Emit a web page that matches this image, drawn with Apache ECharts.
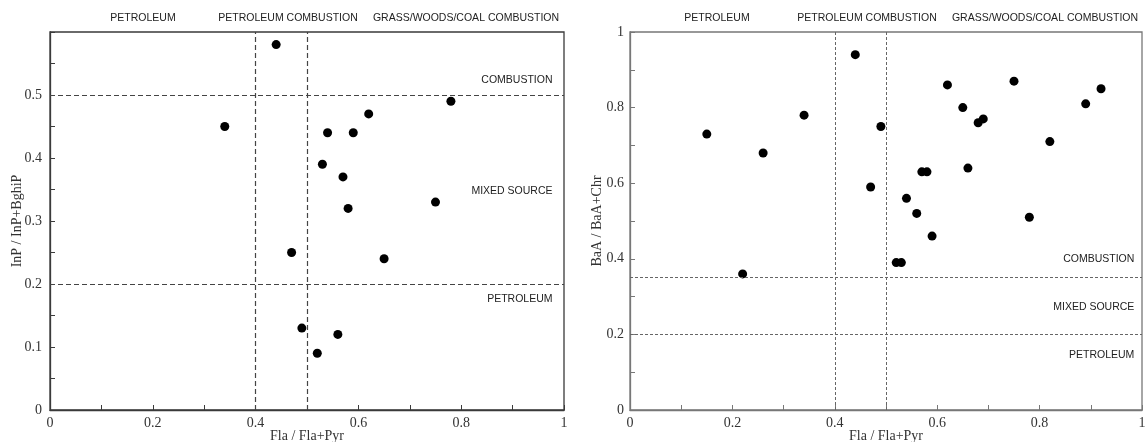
<!DOCTYPE html>
<html>
<head>
<meta charset="utf-8">
<script src="https://cdn.jsdelivr.net/npm/echarts@6/dist/echarts.min.js"></script>
<style>
html,body{margin:0;padding:0;background:#fff;}
#chart{width:1146px;height:442px;}
</style>
</head>
<body>
<div id="chart"></div>
<script>
// ---- Data ----
// Left panel: Fla/(Fla+Pyr) vs InP/(InP+BghiP)
const leftX = [0.34, 0.44, 0.47, 0.49, 0.52, 0.53, 0.54, 0.56, 0.57, 0.58, 0.59, 0.62, 0.65, 0.75, 0.78];
const leftY = [0.45, 0.58, 0.25, 0.13, 0.09, 0.39, 0.44, 0.12, 0.37, 0.32, 0.44, 0.47, 0.24, 0.33, 0.49];
// Right panel: Fla/(Fla+Pyr) vs BaA/(BaA+Chr)
const rightX = [0.15, 0.22, 0.26, 0.34, 0.44, 0.47, 0.49, 0.52, 0.53, 0.54, 0.56, 0.57, 0.58, 0.59, 0.62, 0.65, 0.66, 0.68, 0.69, 0.75, 0.78, 0.82, 0.89, 0.92];
const rightY = [0.73, 0.36, 0.68, 0.78, 0.94, 0.59, 0.75, 0.39, 0.39, 0.56, 0.52, 0.63, 0.63, 0.46, 0.86, 0.80, 0.64, 0.76, 0.77, 0.87, 0.51, 0.71, 0.81, 0.85];
// Source-diagnostic thresholds
const leftVLines = [0.4, 0.5];
const leftHLines = [0.5, 0.2];
const rightVLines = [0.4, 0.5];
const rightHLines = [0.35, 0.2];
// Text labels
const topZones = ['PETROLEUM', 'PETROLEUM COMBUSTION', 'GRASS/WOODS/COAL COMBUSTION'];
const sideZones = ['COMBUSTION', 'MIXED SOURCE', 'PETROLEUM'];
const xName = 'Fla / Fla+Pyr';
const leftYName = 'InP / InP+BghiP';
const rightYName = 'BaA / BaA+Chr';

// ---- Build ----
const zip = (a, b) => a.map((v, i) => [v, b[i]]);
const serif = "'Liberation Serif', 'Times New Roman', serif";
const sans = "'Liberation Sans', Arial, sans-serif";

function axisCommon(color, lblMargin) {
  return {
    axisLine: { show: true, lineStyle: { color: color, width: 1.3 } },
    axisTick: { show: true, inside: true, length: 5, lineStyle: { color: color, width: 1 } },
    minorTick: { show: true, splitNumber: 2, length: 5, lineStyle: { color: color, width: 1 } },
    splitLine: { show: false },
    axisLabel: { fontFamily: serif, fontSize: 14, color: '#333', margin: lblMargin },
    nameTextStyle: { fontFamily: serif, fontSize: 14, color: '#333' },
    nameMoveOverlap: false
  };
}

function lines(v, h) {
  return v.map(x => ({ xAxis: x })).concat(h.map(y => ({ yAxis: y })));
}

const leftSideY = [0.523, 0.348, 0.176];
const rightSideY = [0.40, 0.271, 0.146];

function sideLabels(xPos, ys) {
  return sideZones.map((t, i) => ({
    name: t,
    coord: [xPos, ys[i]],
    symbol: 'circle',
    symbolSize: 1,
    itemStyle: { color: 'rgba(0,0,0,0)' },
    label: { show: true, position: 'left', distance: 0, formatter: t,
             fontFamily: sans, fontSize: 10.5, color: '#222' }
  }));
}

const leftTopX = [143, 288, 466];
const rightTopX = [717, 867, 1045];
const graphics = [];
topZones.forEach((t, i) => {
  graphics.push({ type: 'text', x: leftTopX[i], y: 18,
    style: { text: t, font: '10.5px ' + sans, fill: '#222', align: 'center', verticalAlign: 'middle' } });
  graphics.push({ type: 'text', x: rightTopX[i], y: 18,
    style: { text: t, font: '10.5px ' + sans, fill: '#222', align: 'center', verticalAlign: 'middle' } });
});

const leftAxisColor = '#3a3a3a';
const rightAxisColor = '#777';

const option = {
  animation: false,
  backgroundColor: '#fff',
  graphic: graphics,
  grid: [
    { left: 50, top: 32, width: 514, height: 378, outerBoundsMode: 'none', containLabel: false,
      show: true, borderColor: leftAxisColor, borderWidth: 1.3, backgroundColor: 'transparent' },
    { left: 630, top: 32, width: 512, height: 378, outerBoundsMode: 'none', containLabel: false,
      show: true, borderColor: rightAxisColor, borderWidth: 1.3, backgroundColor: 'transparent' }
  ],
  xAxis: [
    Object.assign(axisCommon(leftAxisColor, 6), { type: 'value', gridIndex: 0, min: 0, max: 1, interval: 0.2,
      name: xName, nameLocation: 'middle', nameGap: 19 }),
    Object.assign(axisCommon(rightAxisColor, 6), { type: 'value', gridIndex: 1, min: 0, max: 1, interval: 0.2,
      name: xName, nameLocation: 'middle', nameGap: 19 })
  ],
  yAxis: [
    Object.assign(axisCommon(leftAxisColor, 8), { type: 'value', gridIndex: 0, min: 0, max: 0.6, interval: 0.1,
      name: leftYName, nameLocation: 'middle', nameGap: 26 }),
    Object.assign(axisCommon(rightAxisColor, 6), { type: 'value', gridIndex: 1, min: 0, max: 1, interval: 0.2,
      name: rightYName, nameLocation: 'middle', nameGap: 26 })
  ],
  series: [
    {
      type: 'scatter', xAxisIndex: 0, yAxisIndex: 0,
      data: zip(leftX, leftY), symbol: 'circle', symbolSize: 9,
      itemStyle: { color: '#000', opacity: 1 },
      markLine: { silent: true, symbol: ['none', 'none'], label: { show: false },
        lineStyle: { color: '#444', width: 1.2, type: [5, 3] }, data: lines(leftVLines, leftHLines) },
      markPoint: { silent: true, data: sideLabels(0.9786, leftSideY) }
    },
    {
      type: 'scatter', xAxisIndex: 1, yAxisIndex: 1,
      data: zip(rightX, rightY), symbol: 'circle', symbolSize: 9,
      itemStyle: { color: '#000', opacity: 1 },
      markLine: { silent: true, symbol: ['none', 'none'], label: { show: false },
        lineStyle: { color: '#666', width: 1, type: [3, 2] }, data: lines(rightVLines, rightHLines) },
      markPoint: { silent: true, data: sideLabels(0.986, rightSideY) }
    }
  ]
};

// hide 0.6 label on the left y axis
option.yAxis[0].axisLabel.showMaxLabel = false;
option.yAxis[0].axisLabel.formatter = v => (v >= 0.6 - 1e-9 ? '' : String(+v.toFixed(2)));

const chart = echarts.init(document.getElementById('chart'), null, { renderer: 'canvas' });
chart.setOption(option);
</script>
</body>
</html>
